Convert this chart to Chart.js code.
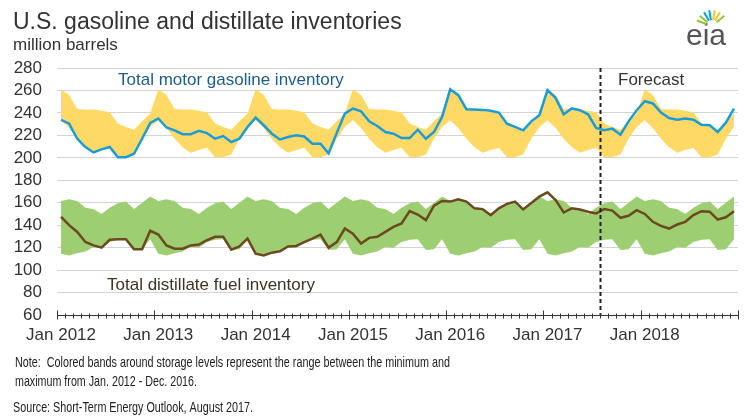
<!DOCTYPE html>
<html><head><meta charset="utf-8">
<script src="https://cdn.jsdelivr.net/npm/chart.js@4/dist/chart.umd.min.js"></script>
<style>html,body{margin:0;padding:0;background:#fff;}</style>
</head><body>
<canvas id="c" width="746" height="417"></canvas>
<script>
// ---- data (million barrels), monthly Jan 2012 - Dec 2018 ----
const tickLabels = ['Jan 2012','Jan 2013','Jan 2014','Jan 2015','Jan 2016','Jan 2017','Jan 2018'];
const gasoline = [
  233.7,230.4,217,209.6,204.8,207.5,209.6,200.6,200.6,203.6,217,231,
  235,227,224.5,221,221,224,222,217,219.4,214,217,227.5,
  235.8,229,221.5,216.4,218.5,220,219,212.5,212.5,204,222,239.4,
  243.9,241.5,232.5,228.4,223,221.5,217.6,217.6,225,217,223,236.4,
  261,255.8,243.3,243,242.7,242,240.3,230.4,227.5,224.5,232.5,238,
  260.3,253.4,238.8,244,242.4,238.8,226.6,224.5,226,220.6,232.5,242.4,
  250.4,248.4,240.3,235.5,234,235,234,229.5,229,223,231.3,243.9
];
const distillate = [
  147.5,140,134,125,122,120,127,127.5,127.5,118.5,118.5,135,
  131.6,122,119,119,122,122.7,126.6,129.6,129.6,118.2,121,128,
  114.6,113,115.5,116.7,121,121.5,125,128,131.6,120,125,137,
  132.5,123.6,128.7,129.6,134,138.5,141.5,152.5,149.5,144.5,157.3,161.5,
  161,163,161,155,154.3,149,155,159,161,154,159.7,165.4,
  169.3,162.4,151.3,155,154,152,150.4,154.3,153,146.6,148.4,153.4,
  150,143,139.4,137,140.6,143,149,152.5,152,145,147,152.5
];
// min/max range by calendar month, Jan 2012 - Dec 2016
const gasBandMax  = [261,256,243.5,243,243,242,240.5,230.5,227.5,225,232.5,239.5];
const gasBandMin  = [233.5,226.5,217,209.5,204.5,207,209,200.5,200.5,203,217,227.5];
const distBandMax = [161.5,163,161.5,155.5,154.5,150,155.5,159.5,161,154.5,160,165.5];
const distBandMin = [114.5,113,115,116.5,120.5,120,125,127,127.5,118,118.5,127.5];
const forecastStartMonth = 67; // Aug 2017

const pts = arr => arr.map((v, i) => ({x: i + 0.5, y: v}));
const band = arr => pts(gasoline.map((_, i) => arr[i % 12]));

const FONT = "'Liberation Sans', Arial, sans-serif";

const decor = {
  id: 'decor',
  afterDatasetsDraw(chart) {
    const ctx = chart.ctx, xs = chart.scales.x, ca = chart.chartArea;
    const fx = Math.round(xs.getPixelForValue(forecastStartMonth)) + 0.5;
    ctx.save();
    ctx.strokeStyle = '#222'; ctx.lineWidth = 2; ctx.setLineDash([4, 3]);
    ctx.beginPath(); ctx.moveTo(fx, ca.top); ctx.lineTo(fx, ca.bottom); ctx.stroke();
    ctx.restore();
  },
  afterDraw(chart) {
    const ctx = chart.ctx, xs = chart.scales.x, ca = chart.chartArea;
    ctx.save();
    const yb = Math.round(ca.bottom) + 0.5;
    ctx.strokeStyle = '#333'; ctx.lineWidth = 1;
    ctx.beginPath(); ctx.moveTo(ca.left, yb); ctx.lineTo(ca.right, yb); ctx.stroke();
    for (let m = 0; m <= 84; m++) {
      const x = Math.round(xs.getPixelForValue(m)) + 0.5;
      ctx.beginPath();
      if (m % 12 === 0) { ctx.moveTo(x, yb - 5); ctx.lineTo(x, yb + 4); }
      else { ctx.moveTo(x, yb - 2); ctx.lineTo(x, yb + 3); }
      ctx.stroke();
    }
    ctx.textBaseline = 'alphabetic'; ctx.textAlign = 'left';
    ctx.fillStyle = '#333';
    ctx.font = '23px ' + FONT;
    ctx.fillText('U.S. gasoline and distillate inventories', 13, 28.5);
    ctx.font = '17px ' + FONT;
    ctx.fillText('million barrels', 13, 50);
    ctx.fillStyle = '#1f5c8a';
    ctx.fillText('Total motor gasoline inventory', 118, 85);
    ctx.fillStyle = '#3c3423';
    ctx.fillText('Total distillate fuel inventory', 107, 290);
    ctx.fillStyle = '#333';
    ctx.fillText('Forecast', 618, 85);
    ctx.textBaseline = 'middle';
    ctx.font = '15px ' + FONT;
    ctx.fillStyle = '#222';
    ctx.fillText('Note:  Colored bands around storage levels represent the range between the minimum and', 15, 363, 435);
    ctx.fillText('maximum from Jan. 2012 - Dec. 2016.', 15, 382, 182);
    ctx.fillText('Source: Short-Term Energy Outlook, August 2017.', 13, 408, 240);
    ctx.textBaseline = 'alphabetic';
    ctx.fillStyle = '#555';
    ctx.font = '30px ' + FONT;
    ctx.fillText('eia', 686, 45);
    const rays = [['#8dc63f', -160], ['#8dc63f', -140], ['#00a0dc', -120], ['#00a0dc', -100], ['#f7c531', -80], ['#f7c531', -60], ['#8dc63f', -40]];
    rays.forEach(([c, a]) => {
      const r = a * Math.PI / 180, cx = 712, cy = 26;
      ctx.strokeStyle = c; ctx.lineWidth = 2;
      ctx.beginPath();
      ctx.moveTo(cx + 6 * Math.cos(r), cy + 6 * Math.sin(r));
      ctx.lineTo(cx + 16 * Math.cos(r), cy + 16 * Math.sin(r));
      ctx.stroke();
    });
    ctx.restore();
  }
};

new Chart(document.getElementById('c'), {
  type: 'line',
  data: {
    datasets: [
      {label: 'Total motor gasoline inventory', data: pts(gasoline), borderColor: '#1b9bd7', borderWidth: 2.5, pointRadius: 0, fill: false, order: 0},
      {label: 'Total distillate fuel inventory', data: pts(distillate), borderColor: '#6b4a1f', borderWidth: 2.5, pointRadius: 0, fill: false, order: 0},
      {label: 'gasMax', data: band(gasBandMax), borderWidth: 0, borderColor: 'rgba(0,0,0,0)', pointRadius: 0, backgroundColor: '#ffd966', fill: '+1', order: 2},
      {label: 'gasMin', data: band(gasBandMin), borderWidth: 0, borderColor: 'rgba(0,0,0,0)', pointRadius: 0, fill: false, order: 2},
      {label: 'distMax', data: band(distBandMax), borderWidth: 0, borderColor: 'rgba(0,0,0,0)', pointRadius: 0, backgroundColor: '#9dcf72', fill: '+1', order: 2},
      {label: 'distMin', data: band(distBandMin), borderWidth: 0, borderColor: 'rgba(0,0,0,0)', pointRadius: 0, fill: false, order: 2}
    ]
  },
  options: {
    responsive: false, devicePixelRatio: 1, animation: false,
    layout: {padding: {top: 68, right: 8, bottom: 0, left: 0}},
    plugins: {legend: {display: false}, tooltip: {enabled: false}},
    elements: {line: {tension: 0}},
    scales: {
      x: {
        type: 'linear', min: 0, max: 84,
        afterFit: s => { s.height = 102; },
        afterBuildTicks: s => { s.ticks = tickLabels.map((_, k) => ({value: k * 12 + 0.5})); },
        grid: {display: false, drawTicks: false},
        border: {display: false},
        ticks: {
          autoSkip: false, maxRotation: 0, padding: 10,
          color: '#333', font: {size: 17, family: FONT},
          callback: v => tickLabels[Math.floor(v / 12)]
        }
      },
      y: {
        min: 60, max: 280,
        afterFit: s => { s.width = 57; },
        grid: {color: '#d3d3d3', lineWidth: 1, drawTicks: false},
        border: {display: false},
        ticks: {stepSize: 20, autoSkip: false, maxTicksLimit: 20, padding: 15, color: '#333', font: {size: 17, family: FONT}}
      }
    }
  },
  plugins: [decor]
});
</script>
</body></html>
